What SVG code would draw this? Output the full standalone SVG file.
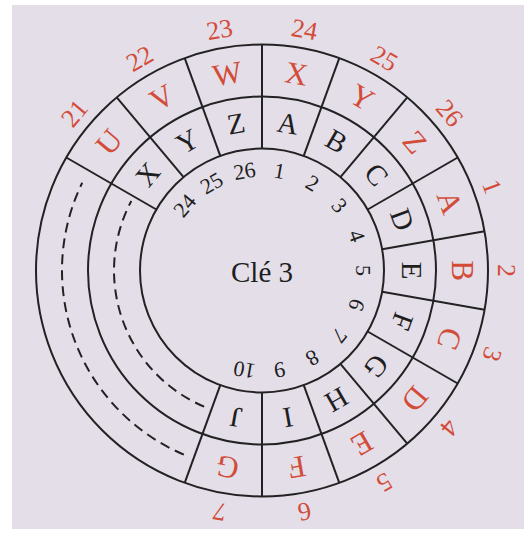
<svg xmlns="http://www.w3.org/2000/svg" width="524" height="533" viewBox="0 0 524 533">
<style>
.ln{stroke:#222222;stroke-width:2;fill:none}
.ds{stroke:#222222;stroke-width:2;fill:none;stroke-dasharray:10 6}
.red{font-family:"Liberation Serif","Times New Roman",serif;font-size:31px;fill:#d24c38;text-anchor:middle}
.blk{font-family:"Liberation Serif","Times New Roman",serif;font-size:29px;fill:#1e1e1e;text-anchor:middle}
.num{font-family:"Liberation Serif","Times New Roman",serif;font-size:22px;fill:#1e1e1e;text-anchor:middle}
.onum{font-family:"Liberation Serif","Times New Roman",serif;font-size:26px;fill:#d24c38;text-anchor:middle}
.ttl{font-family:"Liberation Serif","Times New Roman",serif;font-size:29px;fill:#1e1e1e;text-anchor:middle}
</style>
<rect x="0" y="0" width="524" height="533" fill="#ffffff"/>
<rect x="12" y="5" width="512" height="524" fill="#e4dee9"/>
<g id="disc">
<circle cx="262" cy="270.5" r="226" fill="#ffffff" class="ln"/>
<circle cx="262" cy="270.5" r="174" class="ln"/>
<circle cx="262" cy="270.5" r="122" class="ln"/>
<path class="ds" d="M 183.86 454.6 A 200 200 0 0 1 82.24 182.8"/>
<path class="ds" d="M 204.17 406.7 A 148 148 0 0 1 131.33 201.0"/>
</g>
<g id="dividers">
<line class="ln" x1="262" y1="148.5" x2="262" y2="44.5" transform="rotate(-60 262 270.5)"/>
<line class="ln" x1="262" y1="148.5" x2="262" y2="44.5" transform="rotate(-40 262 270.5)"/>
<line class="ln" x1="262" y1="148.5" x2="262" y2="44.5" transform="rotate(-20 262 270.5)"/>
<line class="ln" x1="262" y1="148.5" x2="262" y2="44.5"/>
<line class="ln" x1="262" y1="148.5" x2="262" y2="44.5" transform="rotate(20 262 270.5)"/>
<line class="ln" x1="262" y1="148.5" x2="262" y2="44.5" transform="rotate(40 262 270.5)"/>
<line class="ln" x1="262" y1="148.5" x2="262" y2="44.5" transform="rotate(60 262 270.5)"/>
<line class="ln" x1="262" y1="148.5" x2="262" y2="44.5" transform="rotate(80 262 270.5)"/>
<line class="ln" x1="262" y1="148.5" x2="262" y2="44.5" transform="rotate(100 262 270.5)"/>
<line class="ln" x1="262" y1="148.5" x2="262" y2="44.5" transform="rotate(120 262 270.5)"/>
<line class="ln" x1="262" y1="148.5" x2="262" y2="44.5" transform="rotate(140 262 270.5)"/>
<line class="ln" x1="262" y1="148.5" x2="262" y2="44.5" transform="rotate(160 262 270.5)"/>
<line class="ln" x1="262" y1="148.5" x2="262" y2="44.5" transform="rotate(180 262 270.5)"/>
<line class="ln" x1="262" y1="148.5" x2="262" y2="44.5" transform="rotate(200 262 270.5)"/>
</g>
<g id="outer-numbers">
<text class="onum" x="262" y="34.3" transform="rotate(-50 262 270.5)">21</text>
<text class="onum" x="262" y="34.3" transform="rotate(-30 262 270.5)">22</text>
<text class="onum" x="262" y="34.3" transform="rotate(-10 262 270.5)">23</text>
<text class="onum" x="262" y="34.3" transform="rotate(10 262 270.5)">24</text>
<text class="onum" x="262" y="34.3" transform="rotate(30 262 270.5)">25</text>
<text class="onum" x="262" y="34.3" transform="rotate(50 262 270.5)">26</text>
<text class="onum" x="262" y="34.3" transform="rotate(70 262 270.5)">1</text>
<text class="onum" x="262" y="34.3" transform="rotate(90 262 270.5)">2</text>
<text class="onum" x="262" y="34.3" transform="rotate(110 262 270.5)">3</text>
<text class="onum" x="262" y="34.3" transform="rotate(130 262 270.5)">4</text>
<text class="onum" x="262" y="34.3" transform="rotate(150 262 270.5)">5</text>
<text class="onum" x="262" y="34.3" transform="rotate(170 262 270.5)">6</text>
<text class="onum" x="262" y="34.3" transform="rotate(190 262 270.5)">7</text>
</g>
<g id="outer-ring">
<text class="red" x="262" y="81" transform="rotate(-50 262 270.5)">U</text>
<text class="red" x="262" y="81" transform="rotate(-30 262 270.5)">V</text>
<text class="red" x="262" y="81" transform="rotate(-10 262 270.5)">W</text>
<text class="red" x="262" y="81" transform="rotate(10 262 270.5)">X</text>
<text class="red" x="262" y="81" transform="rotate(30 262 270.5)">Y</text>
<text class="red" x="262" y="81" transform="rotate(50 262 270.5)">Z</text>
<text class="red" x="262" y="81" transform="rotate(70 262 270.5)">A</text>
<text class="red" x="262" y="81" transform="rotate(90 262 270.5)">B</text>
<text class="red" x="262" y="81" transform="rotate(110 262 270.5)">C</text>
<text class="red" x="262" y="81" transform="rotate(130 262 270.5)">D</text>
<text class="red" x="262" y="81" transform="rotate(150 262 270.5)">E</text>
<text class="red" x="262" y="81" transform="rotate(170 262 270.5)">F</text>
<text class="red" x="262" y="81" transform="rotate(190 262 270.5)">G</text>
</g>
<g id="inner-ring">
<text class="blk" x="262" y="131" transform="rotate(-50 262 270.5)">X</text>
<text class="blk" x="262" y="131" transform="rotate(-30 262 270.5)">Y</text>
<text class="blk" x="262" y="131" transform="rotate(-10 262 270.5)">Z</text>
<text class="blk" x="262" y="131" transform="rotate(10 262 270.5)">A</text>
<text class="blk" x="262" y="131" transform="rotate(30 262 270.5)">B</text>
<text class="blk" x="262" y="131" transform="rotate(50 262 270.5)">C</text>
<text class="blk" x="262" y="131" transform="rotate(70 262 270.5)">D</text>
<text class="blk" x="262" y="131" transform="rotate(90 262 270.5)">E</text>
<text class="blk" x="262" y="131" transform="rotate(110 262 270.5)">F</text>
<text class="blk" x="262" y="131" transform="rotate(130 262 270.5)">G</text>
<text class="blk" x="262" y="131" transform="rotate(150 262 270.5)">H</text>
<text class="blk" x="262" y="131" transform="rotate(170 262 270.5)">I</text>
<text class="blk" x="262" y="131" transform="rotate(190 262 270.5)">J</text>
</g>
<g id="inner-numbers">
<text class="num" x="262" y="176.9" transform="rotate(-50 262 270.5)">24</text>
<text class="num" x="262" y="176.9" transform="rotate(-30 262 270.5)">25</text>
<text class="num" x="262" y="176.9" transform="rotate(-10 262 270.5)">26</text>
<text class="num" x="262" y="176.9" transform="rotate(10 262 270.5)">1</text>
<text class="num" x="262" y="176.9" transform="rotate(30 262 270.5)">2</text>
<text class="num" x="262" y="176.9" transform="rotate(50 262 270.5)">3</text>
<text class="num" x="262" y="176.9" transform="rotate(70 262 270.5)">4</text>
<text class="num" x="262" y="176.9" transform="rotate(90 262 270.5)">5</text>
<text class="num" x="262" y="176.9" transform="rotate(110 262 270.5)">6</text>
<text class="num" x="262" y="176.9" transform="rotate(130 262 270.5)">7</text>
<text class="num" x="262" y="176.9" transform="rotate(150 262 270.5)">8</text>
<text class="num" x="262" y="176.9" transform="rotate(170 262 270.5)">9</text>
<text class="num" x="262" y="176.9" transform="rotate(190 262 270.5)">10</text>
</g>
<g id="center-label">
<text class="ttl" x="262" y="282">Clé 3</text>
</g>
</svg>
